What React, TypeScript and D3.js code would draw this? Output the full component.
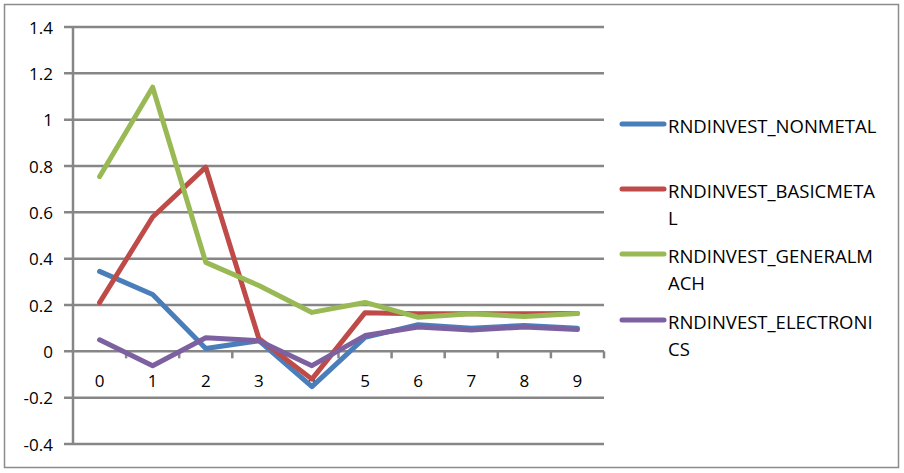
import React from "react";
import * as d3 from "d3";

const categories = ["0", "1", "2", "3", "4", "5", "6", "7", "8", "9"];
const nonmetal = [0.345, 0.245, 0.012, 0.046, -0.152, 0.06, 0.115, 0.1, 0.112, 0.1];
const basicmetal = [0.21, 0.58, 0.795, 0.055, -0.12, 0.167, 0.162, 0.162, 0.162, 0.163];
const generalmach = [0.754, 1.14, 0.384, 0.284, 0.168, 0.211, 0.147, 0.162, 0.15, 0.163];
const electronics = [0.05, -0.062, 0.059, 0.046, -0.062, 0.068, 0.105, 0.092, 0.105, 0.094];
const yTicks = [1.4, 1.2, 1, 0.8, 0.6, 0.4, 0.2, 0, -0.2, -0.4];

const series = [
  { name: "NONMETAL", lines: ["RNDINVEST_NONMETAL"], values: nonmetal, color: "#4A7EBB" },
  { name: "BASICMETAL", lines: ["RNDINVEST_BASICMETA", "L"], values: basicmetal, color: "#BE4B48" },
  { name: "GENERALMACH", lines: ["RNDINVEST_GENERALM", "ACH"], values: generalmach, color: "#98B954" },
  { name: "ELECTRONICS", lines: ["RNDINVEST_ELECTRONI", "CS"], values: electronics, color: "#7D60A0" },
];

const FONT = "'Open Sans', 'Noto Sans', sans-serif";

export default function App() {
  const left = 73;
  const right = 604;
  const y = d3.scaleLinear().domain([-0.4, 1.4]).range([444, 27]);
  const x = d3.scaleBand().domain(categories).range([left, right]);
  const cx = (c: string) => (x(c) as number) + x.bandwidth() / 2;
  const line = d3
    .line<number>()
    .x((_, i) => cx(categories[i]))
    .y((v) => y(v));
  const gridColor = "#868686";
  const legendY = [124, 189, 254, 320];

  return (
    <svg
      width={904}
      height={473}
      style={{ position: "absolute", left: 0, top: 0, display: "block", background: "#fff" }}
    >
      <rect x={4.5} y={4.5} width={894} height={463} fill="#fff" stroke="#8c8c8c" strokeWidth={1.5} />
      {yTicks.map((t) => (
        <g key={t}>
          <line x1={64} x2={right} y1={y(t)} y2={y(t)} stroke={gridColor} strokeWidth={2.5} />
          <text x={53} y={y(t) + 6.5} textAnchor="end" fontFamily={FONT} fontSize={17} fill="#000">
            {String(t)}
          </text>
        </g>
      ))}
      <line x1={left} x2={left} y1={y(1.4) - 1} y2={y(-0.4) + 1} stroke={gridColor} strokeWidth={2.5} />
      {categories.map((c) => (
        <line
          key={"t" + c}
          x1={(x(c) as number) + x.bandwidth()}
          x2={(x(c) as number) + x.bandwidth()}
          y1={y(0)}
          y2={y(0) + 7}
          stroke={gridColor}
          strokeWidth={2.5}
        />
      ))}
      {categories.map((c) => (
        <text key={"l" + c} x={cx(c)} y={386.5} textAnchor="middle" fontFamily={FONT} fontSize={17} fill="#000">
          {c}
        </text>
      ))}
      {series.map((s) => (
        <path
          key={s.name}
          d={line(s.values) as string}
          fill="none"
          stroke={s.color}
          strokeWidth={5}
          strokeLinejoin="round"
          strokeLinecap="round"
        />
      ))}
      {series.map((s, i) => (
        <g key={"lg" + s.name}>
          <line x1={622} x2={664} y1={legendY[i]} y2={legendY[i]} stroke={s.color} strokeWidth={5} strokeLinecap="round" />
          {s.lines.map((t, j) => (
            <text key={j} x={668} y={legendY[i] + 8.5 + j * 27.5} fontFamily={FONT} fontSize={18.5} fill="#000">
              {t}
            </text>
          ))}
        </g>
      ))}
    </svg>
  );
}
